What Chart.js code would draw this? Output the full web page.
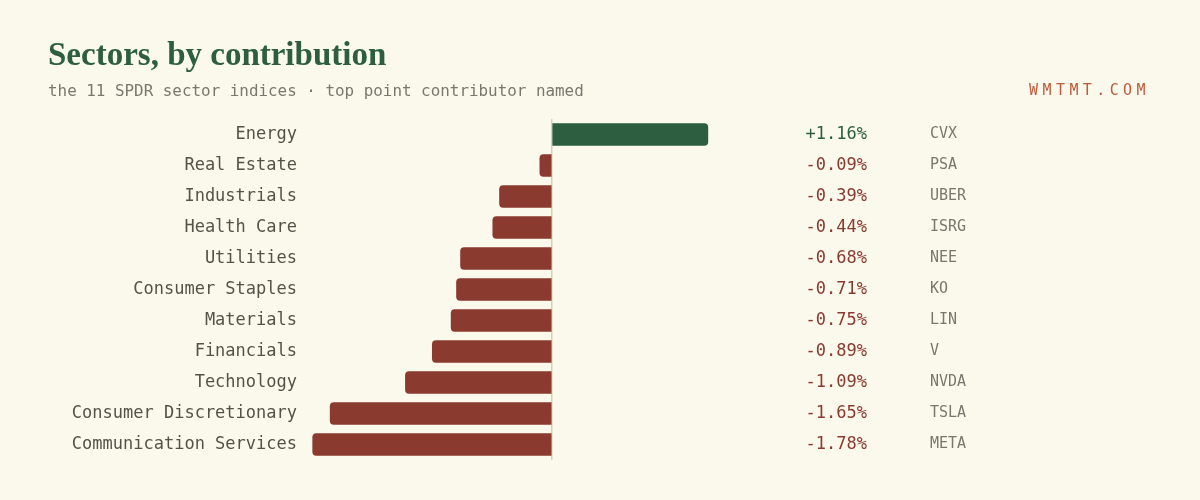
<!DOCTYPE html>
<html>
<head>
<meta charset="utf-8">
<script src="https://cdn.jsdelivr.net/npm/chart.js@4"></script>
<style>
    html, body { margin: 0; padding: 0; background: #fbf8ec; }
    #wrap { position: relative; width: 1200px; height: 500px; }
    #chart { position: absolute; left: 0; top: 0; }
    .title { position: absolute; left: 48px; top: 36px; font-family: "Liberation Serif", serif; font-weight: bold; font-size: 33px; color: #2d5e3f; }
    .sub { position: absolute; left: 48px; top: 81px; font-family: "DejaVu Sans Mono", monospace; font-size: 15.9px; color: #7a776e; }
    .brand { position: absolute; right: 50px; top: 81px; font-family: "DejaVu Sans Mono", monospace; font-size: 15px; color: #c2593a; letter-spacing: 4.4px; }
</style>
</head>
<body>
<div id="wrap">
    <canvas id="chart" width="1200" height="500"></canvas>
    <div class="title">Sectors, by contribution</div>
    <div class="sub">the 11 SPDR sector indices · top point contributor named</div>
    <div class="brand">WMTMT.COM</div>
</div>
<script>
    var sectors = ['Energy', 'Real Estate', 'Industrials', 'Health Care', 'Utilities', 'Consumer Staples',
        'Materials', 'Financials', 'Technology', 'Consumer Discretionary', 'Communication Services'];
    var changes = [1.16, -0.09, -0.39, -0.44, -0.68, -0.71, -0.75, -0.89, -1.09, -1.65, -1.78];
    var contributors = ['CVX', 'PSA', 'UBER', 'ISRG', 'NEE', 'KO', 'LIN', 'V', 'NVDA', 'TSLA', 'META'];

    var GREEN = '#2d5e3f';
    var RED = '#8b3a2f';

    // value and ticker columns to the right of the plot
    var sideColumns = {
        id: 'sideColumns',
        afterDatasetsDraw: function (chart) {
            var ctx = chart.ctx;
            var yScale = chart.scales.y;
            var right = chart.chartArea.right;
            ctx.save();
            ctx.textBaseline = 'middle';
            changes.forEach(function (v, i) {
                var y = yScale.getPixelForValue(i);
                ctx.font = '17px "DejaVu Sans Mono", monospace';
                ctx.textAlign = 'right';
                ctx.fillStyle = v >= 0 ? GREEN : RED;
                ctx.fillText((v >= 0 ? '+' : '') + v.toFixed(2) + '%', right + 100, y);
                ctx.font = '15px "DejaVu Sans Mono", monospace';
                ctx.textAlign = 'left';
                ctx.fillStyle = '#7a776e';
                ctx.fillText(contributors[i], right + 163, y);
            });
            ctx.restore();
        }
    };

    new Chart(document.getElementById('chart').getContext('2d'), {
        type: 'bar',
        data: {
            labels: sectors,
            datasets: [{
                data: changes,
                backgroundColor: changes.map(function (v) { return v >= 0 ? GREEN : RED; }),
                barThickness: 22,
                borderRadius: 4,
                borderSkipped: 'start'
            }]
        },
        options: {
            indexAxis: 'y',
            responsive: false,
            animation: false,
            layout: { padding: { top: 119, bottom: 40, left: 0, right: 433 } },
            plugins: { legend: { display: false }, tooltip: { enabled: false } },
            scales: {
                x: {
                    min: -1.8,
                    max: 1.6,
                    ticks: { display: false, stepSize: 0.2 },
                    border: { display: false },
                    grid: {
                        drawTicks: false,
                        lineWidth: 1.5,
                        color: function (c) { return c.tick && c.tick.value === 0 ? '#d9d0b6' : 'rgba(0,0,0,0)'; }
                    }
                },
                y: {
                    afterFit: function (scale) { scale.width = 310; },
                    ticks: {
                        padding: 5,
                        color: '#555249',
                        font: { family: '"DejaVu Sans Mono", monospace', size: 17 }
                    },
                    grid: { display: false },
                    border: { display: false }
                }
            }
        },
        plugins: [sideColumns]
    });
</script>
</body>
</html>
